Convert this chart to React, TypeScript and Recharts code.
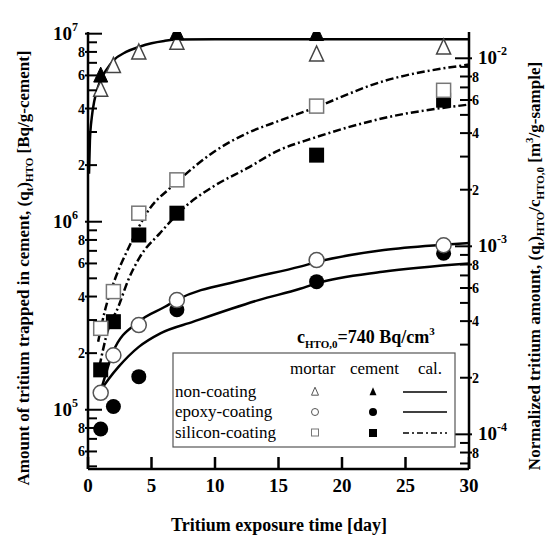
import React from "react";
import { ComposedChart, Line, Scatter, XAxis, YAxis } from "recharts";

// measured points (day, Bq/g-cement)
const days = [1, 2, 4, 7, 18, 28];
const nonMortar = [5.0e6, 6.7e6, 7.9e6, 8.9e6, 7.7e6, 8.4e6];
const nonCementDays = [1, 7, 18];
const nonCement = [5.95e6, 1.0e7, 9.9e6];
const epoxyMortar = [1.23e5, 1.95e5, 2.82e5, 3.83e5, 6.25e5, 7.5e5];
const epoxyCement = [7.9e4, 1.04e5, 1.5e5, 3.4e5, 4.8e5, 6.8e5];
const siliconMortar = [2.71e5, 4.25e5, 1.11e6, 1.67e6, 4.12e6, 5.0e6];
const siliconCement = [1.63e5, 2.94e5, 8.5e5, 1.11e6, 2.26e6, 4.43e6];

// calculated curves
const nonCalT = [0.08, 0.15, 0.3, 0.5, 0.75, 1, 1.5, 2, 3, 4, 5, 6, 7, 10, 30];
const nonCalQ = [1.8e6, 2.7e6, 3.6e6, 4.4e6, 5.1e6, 5.7e6, 6.5e6, 7.2e6, 8.0e6, 8.5e6, 8.9e6, 9.15e6, 9.3e6, 9.35e6, 9.35e6];
const epoxyUpT = [0.7, 0.94, 1.97, 3.96, 6.06, 7, 12.2, 16.7, 18, 23.3, 27.7, 30];
const epoxyUpQ = [1.13e5, 1.24e5, 2.03e5, 2.93e5, 3.53e5, 3.84e5, 4.9e5, 5.77e5, 6.1e5, 7.07e5, 7.52e5, 7.7e5];
const epoxyLoT = [1.0, 1.6, 2.4, 4, 5.7, 8.3, 13.5, 16.7, 18, 23.2, 30];
const epoxyLoQ = [1.27e5, 1.45e5, 1.69e5, 2.16e5, 2.55e5, 2.94e5, 3.84e5, 4.4e5, 4.7e5, 5.42e5, 6.0e5];
const siliconUpT = [0.8, 1.3, 2.1, 3.17, 4.88, 6.46, 7.6, 9.9, 12.5, 15.1, 17.4, 23.3, 30];
const siliconUpQ = [2.3e5, 3.3e5, 4.9e5, 7.2e5, 1.18e6, 1.51e6, 1.77e6, 2.35e6, 2.95e6, 3.45e6, 3.93e6, 5.6e6, 6.85e6];
const siliconLoT = [0.9, 1.57, 2.39, 3.17, 4.09, 5.67, 7.64, 9.87, 12.5, 15.1, 17.7, 23.3, 30];
const siliconLoQ = [1.7e5, 2.65e5, 3.53e5, 4.9e5, 6.5e5, 8.7e5, 1.2e6, 1.54e6, 1.92e6, 2.41e6, 2.78e6, 3.56e6, 4.2e6];

// axes
const xTicks = [0, 5, 10, 15, 20, 25, 30];
const leftTicks = [5e4, 6e4, 7e4, 8e4, 9e4, 1e5, 2e5, 3e5, 4e5, 5e5, 6e5, 7e5, 8e5, 9e5, 1e6, 2e6, 3e6, 4e6, 5e6, 6e6, 7e6, 8e6, 9e6, 1e7];
const rightTicks = [7e-5, 8e-5, 9e-5, 1e-4, 2e-4, 3e-4, 4e-4, 5e-4, 6e-4, 7e-4, 8e-4, 9e-4, 1e-3, 2e-3, 3e-3, 4e-3, 5e-3, 6e-3, 7e-3, 8e-3, 9e-3, 1e-2];
const cHTO = 7.4e8; // 740 Bq/cm3 in Bq/m3
const leftDomain = [4.84e4, 1.021e7];
const rightDomain = [leftDomain[0] / cHTO, leftDomain[1] / cHTO];

const pts = (t: number[], q: number[]) => t.map((v, i) => ({ t: v, q: q[i] }));

const SERIF = "'Liberation Serif', 'Times New Roman', serif";
const PL = 88, PR = 469, PT = 32, PB = 469;

function splitLog(v: number) {
  const lg = Math.log10(v);
  const e = Math.round(lg);
  if (Math.abs(lg - e) < 1e-6) return { decade: true, e, m: 1 };
  const fe = Math.floor(lg + 1e-9);
  return { decade: false, e: fe, m: Math.round(v / Math.pow(10, fe)) };
}

const XTick = ({ x, payload }: any) => (
  <g>
    <line x1={x} x2={x} y1={PB} y2={PB - 12} stroke="#000" strokeWidth={2.5} />
    <text x={x} y={PB + 23} textAnchor="middle" fontFamily={SERIF} fontWeight="bold" fontSize={19}>{payload.value}</text>
  </g>
);

const LeftTick = ({ y, payload }: any) => {
  const s = splitLog(payload.value);
  const labeled = s.decade || s.m % 2 === 0;
  return (
    <g>
      <line x1={labeled ? PL - 3 : PL} x2={PL + (s.decade ? 14 : 9)} y1={y} y2={y} stroke="#000" strokeWidth={2} />
      {s.decade ? (
        <text x={53} y={y + 6} fontFamily={SERIF} fontWeight="bold" fontSize={19}>
          10<tspan dy={-9} fontSize={12}>{s.e}</tspan>
        </text>
      ) : labeled ? (
        <text x={85} y={y + 5} textAnchor="end" fontFamily={SERIF} fontWeight="bold" fontSize={14}>{s.m}</text>
      ) : null}
    </g>
  );
};

const RightTick = ({ y, payload }: any) => {
  const s = splitLog(payload.value);
  const labeled = s.decade || s.m % 2 === 0;
  return (
    <g>
      <line x1={PR - (s.decade ? 14 : 9)} x2={labeled ? PR + 3 : PR} y1={y} y2={y} stroke="#000" strokeWidth={2} />
      {s.decade ? (
        <text x={478} y={y + 6} fontFamily={SERIF} fontWeight="bold" fontSize={19}>
          10<tspan dy={-9} fontSize={12}>{s.e}</tspan>
        </text>
      ) : labeled ? (
        <text x={472} y={y + 5} fontFamily={SERIF} fontWeight="bold" fontSize={14}>{s.m}</text>
      ) : null}
    </g>
  );
};

const triPath = (cx: number, cy: number, h: number, w: number) =>
  `M${cx},${cy - h * 0.6} L${cx + w / 2},${cy + h * 0.4} L${cx - w / 2},${cy + h * 0.4} Z`;

const OpenTri = ({ cx, cy }: any) => <path d={triPath(cx, cy, 15, 14)} fill="#fff" stroke="#444" strokeWidth={1.5} />;
const FillTri = ({ cx, cy }: any) => <path d={triPath(cx, cy, 15, 14)} fill="#000" stroke="#000" strokeWidth={1} />;
const OpenCirc = ({ cx, cy }: any) => <circle cx={cx} cy={cy} r={7.5} fill="#fff" stroke="#555" strokeWidth={1.5} />;
const FillCirc = ({ cx, cy }: any) => <circle cx={cx} cy={cy} r={7.5} fill="#000" />;
const OpenSq = ({ cx, cy }: any) => <rect x={cx - 7} y={cy - 7} width={14} height={14} fill="#fff" stroke="#777" strokeWidth={1.5} />;
const FillSq = ({ cx, cy }: any) => <rect x={cx - 7.5} y={cy - 7.5} width={15} height={15} fill="#000" />;

const Overlay = () => {
  const rows = ["non-coating", "epoxy-coating", "silicon-coating"];
  const rowY = [397, 417, 438];
  return (
    <svg width={547} height={539} style={{ position: "absolute", left: 0, top: 0, pointerEvents: "none" }}>
      <text transform="translate(29,268) rotate(-90)" textAnchor="middle" fontFamily={SERIF} fontWeight="bold" fontSize={17}>
        Amount of tritium trapped in cement, (q<tspan dy={4} fontSize={11}>t</tspan>
        <tspan dy={-4}>)</tspan><tspan dy={4} fontSize={11}>HTO</tspan>
        <tspan dy={-4}> [Bq/g-cement]</tspan>
      </text>
      <text transform="translate(540,266) rotate(-90)" textAnchor="middle" fontFamily={SERIF} fontWeight="bold" fontSize={17}>
        Normalized tritium amount, (q<tspan dy={4} fontSize={11}>t</tspan>
        <tspan dy={-4}>)</tspan><tspan dy={4} fontSize={11}>HTO</tspan>
        <tspan dy={-4}>/c</tspan><tspan dy={4} fontSize={11}>HTO,0</tspan>
        <tspan dy={-4}> [m</tspan><tspan dy={-7} fontSize={11}>3</tspan>
        <tspan dy={7}>/g-sample]</tspan>
      </text>
      <text x={279} y={531} textAnchor="middle" fontFamily={SERIF} fontWeight="bold" fontSize={18}>
        Tritium exposure time [day]
      </text>
      <text x={297} y={343} fontFamily={SERIF} fontWeight="bold" fontSize={18}>
        c<tspan dy={5} fontSize={11}>HTO,0</tspan>
        <tspan dy={-5}>=740 Bq/cm</tspan><tspan dy={-8} fontSize={11}>3</tspan>
      </text>
      <rect x={173} y={353} width={282} height={94} fill="#fff" stroke="#555" strokeWidth={1.2} />
      <text x={290} y={374} fontFamily={SERIF} fontSize={17}>mortar</text>
      <text x={350} y={374} fontFamily={SERIF} fontSize={17}>cement</text>
      <text x={418} y={374} fontFamily={SERIF} fontSize={17}>cal.</text>
      {rows.map((r, i) => (
        <text key={r} x={175} y={rowY[i]} fontFamily={SERIF} fontSize={17}>{r}</text>
      ))}
      <path d={triPath(315, 392, 8, 7)} fill="#fff" stroke="#555" strokeWidth={1} />
      <path d={triPath(373, 392, 8, 7)} fill="#000" />
      <line x1={403} x2={447} y1={392} y2={392} stroke="#000" strokeWidth={1.5} />
      <circle cx={315} cy={412} r={3.5} fill="#fff" stroke="#555" strokeWidth={1} />
      <circle cx={373} cy={412} r={4} fill="#000" />
      <line x1={403} x2={447} y1={412} y2={412} stroke="#000" strokeWidth={1.5} />
      <rect x={311.5} y={429} width={7} height={7} fill="#fff" stroke="#777" strokeWidth={1} />
      <rect x={369} y={429} width={8} height={8} fill="#000" />
      <line x1={403} x2={447} y1={433} y2={433} stroke="#000" strokeWidth={1.5} strokeDasharray="6 3 2 3" />
    </svg>
  );
};

export default function App() {
  return (
    <div style={{ position: "absolute", left: 0, top: 0, width: 547, height: 539, background: "#fff" }}>
      <ComposedChart width={547} height={539} margin={{ top: PT, right: 18, left: 28, bottom: 30 }}>
        <XAxis xAxisId="b" dataKey="t" type="number" domain={[0, 30]} ticks={xTicks} allowDataOverflow
          height={40} axisLine={{ stroke: "#000", strokeWidth: 2.5 }} tickLine={false} tick={<XTick />} />
        <XAxis xAxisId="top" orientation="top" type="number" domain={[0, 30]} height={0} tick={false}
          axisLine={{ stroke: "#000", strokeWidth: 2.5 }} tickLine={false} />
        <YAxis yAxisId="left" dataKey="q" scale="log" type="number" domain={leftDomain} ticks={leftTicks}
          allowDataOverflow width={60} axisLine={{ stroke: "#000", strokeWidth: 2.5 }} tickLine={false} tick={<LeftTick />} interval={0} />
        <YAxis yAxisId="right" orientation="right" scale="log" type="number" domain={rightDomain} ticks={rightTicks}
          allowDataOverflow width={60} axisLine={{ stroke: "#000", strokeWidth: 2.5 }} tickLine={false} tick={<RightTick />} interval={0} />

        <Line xAxisId="b" yAxisId="left" data={pts(nonCalT, nonCalQ)} dataKey="q" type="monotone" stroke="#000" strokeWidth={2.5} dot={false} isAnimationActive={false} />
        <Line xAxisId="b" yAxisId="left" data={pts(epoxyUpT, epoxyUpQ)} dataKey="q" type="monotone" stroke="#000" strokeWidth={2.5} dot={false} isAnimationActive={false} />
        <Line xAxisId="b" yAxisId="left" data={pts(epoxyLoT, epoxyLoQ)} dataKey="q" type="monotone" stroke="#000" strokeWidth={2.5} dot={false} isAnimationActive={false} />
        <Line xAxisId="b" yAxisId="left" data={pts(siliconUpT, siliconUpQ)} dataKey="q" type="monotone" stroke="#000" strokeWidth={2.5} strokeDasharray="8 3 2 3" dot={false} isAnimationActive={false} />
        <Line xAxisId="b" yAxisId="left" data={pts(siliconLoT, siliconLoQ)} dataKey="q" type="monotone" stroke="#000" strokeWidth={2.5} strokeDasharray="8 3 2 3" dot={false} isAnimationActive={false} />

        <Scatter xAxisId="b" yAxisId="left" data={pts(days, epoxyCement)} dataKey="q" shape={<FillCirc />} isAnimationActive={false} />
        <Scatter xAxisId="b" yAxisId="left" data={pts(days, epoxyMortar)} dataKey="q" shape={<OpenCirc />} isAnimationActive={false} />
        <Scatter xAxisId="b" yAxisId="left" data={pts(days, siliconCement)} dataKey="q" shape={<FillSq />} isAnimationActive={false} />
        <Scatter xAxisId="b" yAxisId="left" data={pts(days, siliconMortar)} dataKey="q" shape={<OpenSq />} isAnimationActive={false} />
        <Scatter xAxisId="b" yAxisId="left" data={pts(days, nonMortar)} dataKey="q" shape={<OpenTri />} isAnimationActive={false} />
        <Scatter xAxisId="b" yAxisId="left" data={pts(nonCementDays, nonCement)} dataKey="q" shape={<FillTri />} isAnimationActive={false} />
      </ComposedChart>
      <Overlay />
    </div>
  );
}
